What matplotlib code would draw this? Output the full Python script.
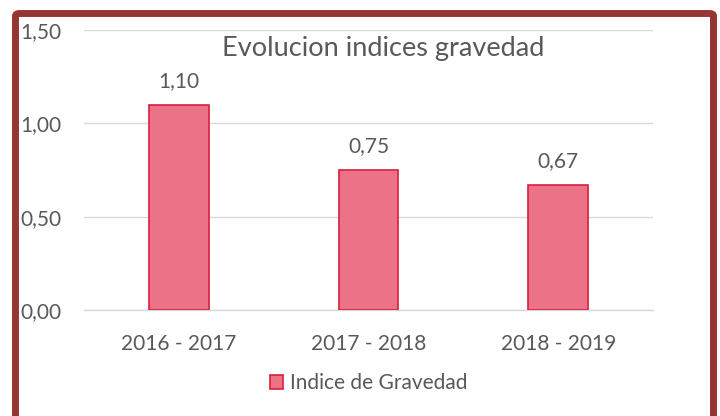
import matplotlib
matplotlib.use("Agg")
import matplotlib.pyplot as plt
from matplotlib.patches import FancyBboxPatch

plt.rcParams['font.family'] = ['Lato', 'DejaVu Sans']

# datos
periodos = ['2016 - 2017', '2017 - 2018', '2018 - 2019']
indice = [1.10, 0.75, 0.67]
yticks = [0.0, 0.5, 1.0, 1.5]
titulo = 'Evolucion indices gravedad'
serie = 'Indice de Gravedad'

W, H = 720, 416
gris = '#595959'

fig = plt.figure(figsize=(W / 100, H / 100), dpi=100)
ax = fig.add_axes([84 / W, 1 - 310 / H, (653 - 84) / W, (310 - 30) / H])

x = range(len(periodos))
bars = ax.bar(x, indice, width=0.316, color='#EC7387', edgecolor='#D81E3C',
              linewidth=1.2, label=serie, zorder=3)

for b, v in zip(bars, indice):
    ax.annotate(f'{v:.2f}'.replace('.', ','),
                (b.get_x() + b.get_width() / 2, b.get_height()),
                xytext=(0, 13), textcoords='offset points',
                ha='center', va='baseline', fontsize=15, color=gris)

ax.set_xlim(-0.5, 2.5)
ax.set_ylim(0, 1.5)
ax.set_xticks(list(x))
ax.set_xticklabels(periodos, fontsize=15, color=gris)
ax.set_yticks(yticks)
ax.set_yticklabels([f'{t:.2f}'.replace('.', ',') for t in yticks], fontsize=15, color=gris)
for lab in ax.get_yticklabels():
    lab.set_horizontalalignment('left')
ax.tick_params(axis='y', length=0, pad=46)
ax.tick_params(axis='x', length=0, pad=17)
ax.grid(axis='y', color='#D9D9D9', linewidth=1.0, zorder=0)
for s in ['top', 'right', 'left']:
    ax.spines[s].set_visible(False)
ax.spines['bottom'].set_color('#D9D9D9')
ax.spines['bottom'].set_linewidth(1.0)

fig.text(383 / W, 1 - 56 / H, titulo, ha='center', va='baseline',
         fontsize=19.5, color=gris)

fig.legend(loc='center', bbox_to_anchor=(368.5 / W, 1 - 383 / H), frameon=False,
           fontsize=15, labelcolor=gris, handlelength=0.65, handleheight=0.65,
           handletextpad=0.3)

# marco rojo oscuro
marco = FancyBboxPatch((15.5 / W, -20 / H), (713.5 - 15.5) / W, (402.5 + 20) / H,
                       boxstyle='round,pad=0,rounding_size=0.006',
                       transform=fig.transFigure, fill=False,
                       edgecolor='#963634', linewidth=5.0, zorder=10)
fig.patches.append(marco)

fig.savefig('out.png', dpi=100)
